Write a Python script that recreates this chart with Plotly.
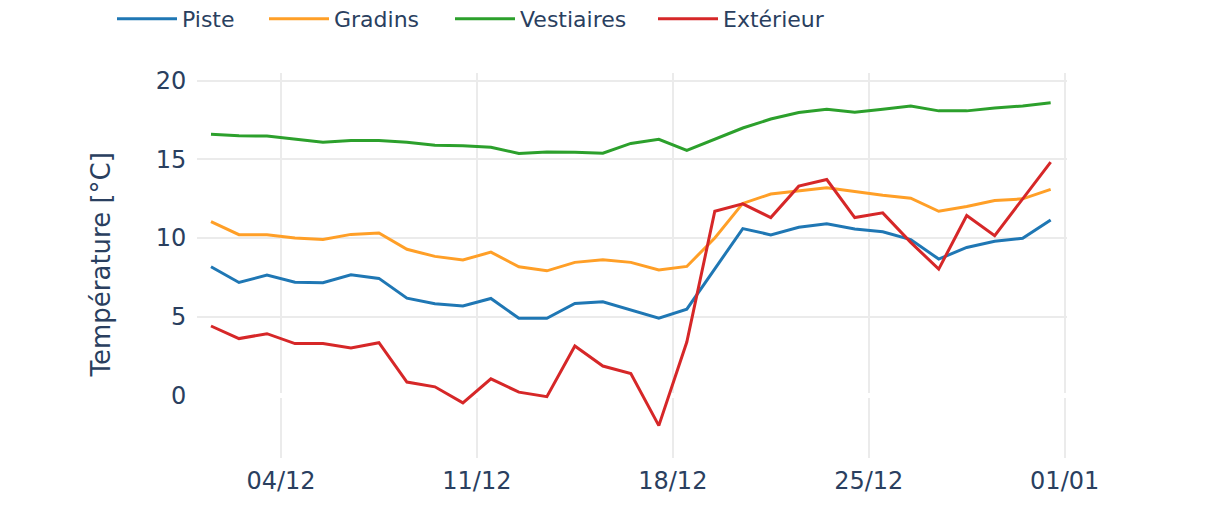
import pandas as pd
import plotly.graph_objects as go

dates = pd.date_range("2023-12-01 12:00", periods=31, freq="D")

piste = [8.17, 7.17, 7.64, 7.19, 7.15, 7.66, 7.43, 6.17, 5.81, 5.68, 6.15, 4.89, 4.89,
         5.83, 5.94, 5.40, 4.89, 5.47, 8.00, 10.60, 10.20, 10.68, 10.90, 10.57, 10.40,
         9.90, 8.66, 9.40, 9.79, 9.98, 11.15]
gradins = [11.04, 10.21, 10.21, 10.00, 9.91, 10.23, 10.32, 9.28, 8.83, 8.60, 9.10, 8.17,
           7.91, 8.45, 8.62, 8.45, 7.96, 8.19, 10.00, 12.20, 12.80, 12.98, 13.19, 12.96,
           12.72, 12.53, 11.70, 12.00, 12.38, 12.49, 13.09]
vestiaires = [16.60, 16.50, 16.49, 16.28, 16.09, 16.20, 16.20, 16.09, 15.90, 15.87, 15.77,
              15.38, 15.48, 15.45, 15.40, 16.02, 16.28, 15.58, 16.30, 17.00, 17.57, 17.98,
              18.19, 18.00, 18.20, 18.40, 18.09, 18.09, 18.28, 18.40, 18.60]
exterieur = [4.40, 3.60, 3.91, 3.28, 3.28, 3.00, 3.34, 0.83, 0.53, -0.49, 1.04, 0.19, -0.10,
             3.13, 1.85, 1.38, -1.94, 3.38, 11.70, 12.17, 11.30, 13.30, 13.72, 11.30, 11.60,
             9.72, 8.02, 11.43, 10.15, 12.50, 14.83]

names = ["Piste", "Gradins", "Vestiaires", "Extérieur"]
colors = ["#1f77b4", "#ff9f27", "#2ca02c", "#d62728"]
values = [piste, gradins, vestiaires, exterieur]
legend_left_px = [104, 256, 442, 645]
y_title = "Température [°C]"

FONT = "DejaVu Sans, Verdana, sans-serif"
TXT = "#2a3f5f"
W, H = 1225, 507
PLOT_W, PLOT_H = 870, 385

fig = go.Figure()
layout_legends = {}
for k, (name, vals, col, lx) in enumerate(zip(names, values, colors, legend_left_px)):
    lg = "legend" if k == 0 else f"legend{k + 1}"
    fig.add_trace(go.Scatter(x=dates, y=vals, mode="lines", name=name,
                             line=dict(color=col, width=3), legend=lg))
    layout_legends[lg] = dict(
        orientation="h", xref="container", yref="paper",
        x=lx / W, xanchor="left", y=1 + 75 / PLOT_H, yanchor="top",
        font=dict(family=FONT, size=22, color=TXT), itemwidth=60,
        bgcolor="rgba(0,0,0,0)",
    )

fig.update_layout(
    width=W, height=H,
    margin=dict(l=189, r=166, t=65, b=57, autoexpand=False),
    paper_bgcolor="white", plot_bgcolor="white",
    font=dict(family=FONT, color=TXT, size=22),
    showlegend=True,
    **layout_legends,
)
fig.add_annotation(
    text=y_title, textangle=-90, showarrow=False,
    xref="paper", yref="paper", x=-97 / PLOT_W, y=0.5,
    xanchor="center", yanchor="middle",
    font=dict(family=FONT, size=26, color=TXT),
)
fig.update_xaxes(
    type="date", range=["2023-12-01", "2024-01-01 02:00"],
    tick0="2023-12-04", dtick=7 * 24 * 3600 * 1000, tickformat="%d/%m",
    showgrid=True, gridcolor="#ebebeb", gridwidth=2, zeroline=False,
    showline=False, automargin=False,
    ticks="outside", ticklen=1, tickcolor="rgba(0,0,0,0)",
    tickfont=dict(family=FONT, size=24, color=TXT),
)
fig.update_yaxes(
    range=[-4.0, 20.5], dtick=5, tick0=0,
    showgrid=True, gridcolor="#ebebeb", gridwidth=2,
    zeroline=True, zerolinecolor="white", zerolinewidth=5,
    showline=False, automargin=False,
    ticks="outside", ticklen=5, tickcolor="rgba(0,0,0,0)",
    tickfont=dict(family=FONT, size=24, color=TXT),
)

fig.write_html("out.html")
